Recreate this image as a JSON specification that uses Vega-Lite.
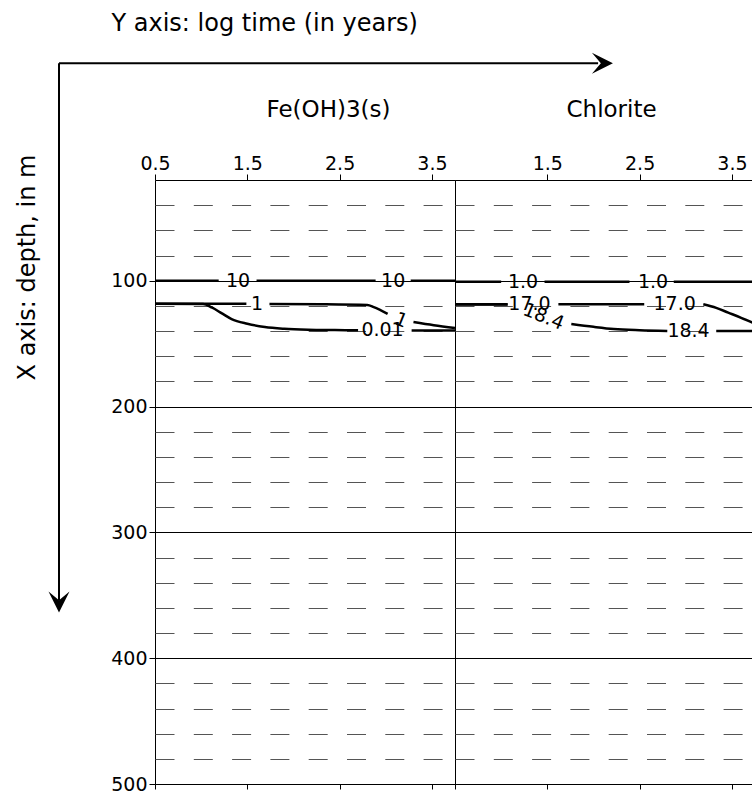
{
  "$schema": "https://vega.github.io/schema/vega-lite/v6.json",
  "background": "white",
  "padding": {"left": 14, "top": 12, "right": 0, "bottom": 5},
  "config": {
    "font": "DejaVu Sans",
    "view": {"stroke": "black", "strokeWidth": 1},
    "axis": {"labelColor": "black", "tickColor": "black", "titleColor": "black", "labelFontSize": 19, "labelFont": "DejaVu Sans", "titleFont": "DejaVu Sans", "titleFontWeight": "normal", "labelFlush": false, "labelOverlap": false, "domain": false},
    "title": {"font": "DejaVu Sans", "fontWeight": "normal", "color": "black"}
  },
  "title": {"text": "Y axis: log time (in years)", "anchor": "start", "fontSize": 24, "dx": 97, "offset": -3, "baseline": "alphabetic"},
  "datasets": {
    "lines": [
      {"panel": "Fe", "seg": "10a", "t": 0.5, "d": 100}, {"panel": "Fe", "seg": "10a", "t": 1.19, "d": 100},
      {"panel": "Fe", "seg": "10b", "t": 1.6, "d": 100}, {"panel": "Fe", "seg": "10b", "t": 2.89, "d": 100},
      {"panel": "Fe", "seg": "10c", "t": 3.27, "d": 100}, {"panel": "Fe", "seg": "10c", "t": 3.75, "d": 100},
      {"panel": "Fe", "seg": "1a", "t": 0.5, "d": 118.3}, {"panel": "Fe", "seg": "1a", "t": 1.49, "d": 118.4},
      {"panel": "Fe", "seg": "1b", "t": 1.74, "d": 118.5}, {"panel": "Fe", "seg": "1b", "t": 2.3, "d": 118.7}, {"panel": "Fe", "seg": "1b", "t": 2.8, "d": 119.3}, {"panel": "Fe", "seg": "1b", "t": 2.87, "d": 121}, {"panel": "Fe", "seg": "1b", "t": 3.02, "d": 126.4},
      {"panel": "Fe", "seg": "1c", "t": 3.3, "d": 132.9}, {"panel": "Fe", "seg": "1c", "t": 3.52, "d": 135.4}, {"panel": "Fe", "seg": "1c", "t": 3.75, "d": 137.6},
      {"panel": "Fe", "seg": "001a", "t": 0.5, "d": 118.3}, {"panel": "Fe", "seg": "001a", "t": 1.02, "d": 118.5}, {"panel": "Fe", "seg": "001a", "t": 1.12, "d": 121.5}, {"panel": "Fe", "seg": "001a", "t": 1.22, "d": 125.8}, {"panel": "Fe", "seg": "001a", "t": 1.33, "d": 130.5}, {"panel": "Fe", "seg": "001a", "t": 1.5, "d": 134.2}, {"panel": "Fe", "seg": "001a", "t": 1.69, "d": 136.8}, {"panel": "Fe", "seg": "001a", "t": 1.9, "d": 138.2}, {"panel": "Fe", "seg": "001a", "t": 2.16, "d": 139}, {"panel": "Fe", "seg": "001a", "t": 2.45, "d": 139.3}, {"panel": "Fe", "seg": "001a", "t": 2.7, "d": 139.5},
      {"panel": "Fe", "seg": "001b", "t": 3.28, "d": 139.7}, {"panel": "Fe", "seg": "001b", "t": 3.75, "d": 139.7},
      {"panel": "Chl", "seg": "c10a", "t": 0.5, "d": 100.8}, {"panel": "Chl", "seg": "c10a", "t": 1.0, "d": 100.8},
      {"panel": "Chl", "seg": "c10b", "t": 1.47, "d": 100.8}, {"panel": "Chl", "seg": "c10b", "t": 2.39, "d": 100.8},
      {"panel": "Chl", "seg": "c10c", "t": 2.87, "d": 100.8}, {"panel": "Chl", "seg": "c10c", "t": 3.75, "d": 100.8},
      {"panel": "Chl", "seg": "c17a", "t": 0.5, "d": 118.7}, {"panel": "Chl", "seg": "c17a", "t": 1.07, "d": 118.7},
      {"panel": "Chl", "seg": "c17b", "t": 1.62, "d": 118.8}, {"panel": "Chl", "seg": "c17b", "t": 2.55, "d": 118.8},
      {"panel": "Chl", "seg": "c17c", "t": 3.19, "d": 118.8}, {"panel": "Chl", "seg": "c17c", "t": 3.33, "d": 121.6}, {"panel": "Chl", "seg": "c17c", "t": 3.46, "d": 125.4}, {"panel": "Chl", "seg": "c17c", "t": 3.6, "d": 129.5}, {"panel": "Chl", "seg": "c17c", "t": 3.75, "d": 134.2},
      {"panel": "Chl", "seg": "c18a", "t": 0.5, "d": 118.9}, {"panel": "Chl", "seg": "c18a", "t": 1.07, "d": 119.0},
      {"panel": "Chl", "seg": "c18b", "t": 1.76, "d": 134.5}, {"panel": "Chl", "seg": "c18b", "t": 2.0, "d": 136.7}, {"panel": "Chl", "seg": "c18b", "t": 2.22, "d": 138.4}, {"panel": "Chl", "seg": "c18b", "t": 2.5, "d": 139.4}, {"panel": "Chl", "seg": "c18b", "t": 2.8, "d": 140},
      {"panel": "Chl", "seg": "c18c", "t": 3.33, "d": 140}, {"panel": "Chl", "seg": "c18c", "t": 3.75, "d": 140}
    ],
    "labels": [
      {"panel": "Fe", "label": "10", "t": 1.4, "d": 100},
      {"panel": "Fe", "label": "10", "t": 3.08, "d": 100},
      {"panel": "Fe", "label": "1", "t": 1.605, "d": 118.5},
      {"panel": "Fe", "label": "0.01", "t": 2.965, "d": 139.6},
      {"panel": "Chl", "label": "1.0", "t": 1.237, "d": 100.8},
      {"panel": "Chl", "label": "1.0", "t": 2.645, "d": 100.8},
      {"panel": "Chl", "label": "17.0", "t": 1.307, "d": 118.7},
      {"panel": "Chl", "label": "17.0", "t": 2.88, "d": 118.7},
      {"panel": "Chl", "label": "18.4", "t": 3.03, "d": 140}
    ],
    "tilted": [
      {"panel": "Fe", "label": "1", "t": 3.165, "d": 131.5},
      {"panel": "Chl", "label": "18.4", "t": 1.459, "d": 128.5}
    ],
    "arrows": [
      {"t": -0.54, "t2": 5.3, "d": -72.8, "d2": -72.8},
      {"t": -0.54, "t2": -0.54, "d": -72.8, "d2": 354}
    ],
    "heads": [
      {"dir": "right", "t": 5.347, "d": -72.8},
      {"dir": "down", "t": -0.54, "d": 355.3}
    ]
  },
  "spacing": 0,
  "bounds": "flush",
  "hconcat": [
    {
      "width": 300,
      "height": 604,
      "resolve": {"axis": {"x": "independent"}},
      "encoding": {
        "y": {"field": "d", "type": "quantitative", "scale": {"domain": [20, 500], "reverse": true, "nice": false, "zero": false},
          "axis": {"values": [40, 60, 80, 100, 120, 140, 160, 180, 200, 220, 240, 260, 280, 300, 320, 340, 360, 380, 400, 420, 440, 460, 480, 500],
            "grid": true,
            "gridDash": {"condition": {"test": "datum.value % 100 === 0", "value": []}, "value": [19, 19.3]},
            "gridColor": {"condition": {"test": "datum.value % 100 === 0", "value": "black"}, "value": "#555555"},
            "gridWidth": 1,
            "labelExpr": "datum.value % 100 === 0 ? datum.label : ''",
            "tickOpacity": {"condition": {"test": "datum.value % 100 === 0", "value": 1}, "value": 0},
            "tickSize": 6, "labelPadding": 2,
            "title": "X axis: depth, in m", "titleFontSize": 24, "titleX": -121, "titleY": 87, "titleAngle": 270, "titleBaseline": "alphabetic", "titleAlign": "center"}}
      },
      "layer": [
        {
          "data": {"name": "lines"},
          "transform": [{"filter": "datum.panel === 'Fe'"}],
          "mark": {"type": "line", "color": "black", "strokeWidth": 2.5, "interpolate": "monotone"},
          "encoding": {
            "x": {"field": "t", "type": "quantitative", "scale": {"domain": [0.5, 3.75], "nice": false, "zero": false},
              "axis": {"orient": "top", "values": [0.5, 1.5, 2.5, 3.5], "format": ".1f", "grid": false, "tickSize": 6, "labelBaseline": "alphabetic", "labelPadding": 5,
                "title": "Fe(OH)3(s)", "titleFontSize": 23, "titleX": 111, "titleY": -64, "titleAlign": "left", "titleBaseline": "alphabetic", "titleAngle": 0}},
            "detail": {"field": "seg", "type": "nominal"},
            "order": {"field": "t", "type": "quantitative"}
          }
        },
        {
          "data": {"name": "labels"},
          "transform": [{"filter": "datum.panel === 'Fe'"}],
          "mark": {"type": "text", "fontSize": 19, "color": "black", "baseline": "middle", "align": "center"},
          "encoding": {
            "x": {"field": "t", "type": "quantitative", "scale": {"domain": [0.5, 3.75], "nice": false, "zero": false},
              "axis": {"orient": "bottom", "values": [0.5, 1.5, 2.5, 3.5], "labels": false, "grid": false, "tickSize": 5, "title": null}},
            "text": {"field": "label", "type": "nominal"}
          }
        },
        {
          "data": {"name": "tilted"},
          "transform": [{"filter": "datum.panel === 'Fe'"}],
          "mark": {"type": "text", "fontSize": 19, "color": "black", "baseline": "middle", "align": "center", "angle": 22},
          "encoding": {
            "x": {"field": "t", "type": "quantitative", "scale": {"domain": [0.5, 3.75], "nice": false, "zero": false}, "axis": null},
            "text": {"field": "label", "type": "nominal"}
          }
        },
        {
          "data": {"name": "arrows"},
          "mark": {"type": "rule", "color": "black", "strokeWidth": 2, "clip": false},
          "encoding": {
            "x": {"field": "t", "type": "quantitative", "scale": {"domain": [0.5, 3.75], "nice": false, "zero": false}, "axis": null},
            "x2": {"field": "t2"},
            "y2": {"field": "d2"}
          }
        },
        {
          "data": {"name": "heads"},
          "mark": {"type": "point", "filled": true, "color": "black", "opacity": 1, "size": 441, "strokeWidth": 0, "clip": false},
          "encoding": {
            "x": {"field": "t", "type": "quantitative", "scale": {"domain": [0.5, 3.75], "nice": false, "zero": false}, "axis": null},
            "shape": {"field": "dir", "type": "nominal", "scale": {"domain": ["right", "down"], "range": ["M1,0L-1,-1L-0.15,0L-1,1Z", "M0,1L-1,-1L0,-0.15L1,-1Z"]}, "legend": null}
          }
        }
      ]
    },
    {
      "width": 300,
      "height": 604,
      "resolve": {"axis": {"x": "independent"}},
      "encoding": {
        "y": {"field": "d", "type": "quantitative", "scale": {"domain": [20, 500], "reverse": true, "nice": false, "zero": false},
          "axis": {"values": [40, 60, 80, 100, 120, 140, 160, 180, 200, 220, 240, 260, 280, 300, 320, 340, 360, 380, 400, 420, 440, 460, 480, 500],
            "grid": true,
            "gridDash": {"condition": {"test": "datum.value % 100 === 0", "value": []}, "value": [19, 19.3]},
            "gridColor": {"condition": {"test": "datum.value % 100 === 0", "value": "black"}, "value": "#555555"},
            "gridWidth": 1,
            "labels": false, "ticks": false, "title": null}}
      },
      "layer": [
        {
          "data": {"name": "lines"},
          "transform": [{"filter": "datum.panel === 'Chl'"}],
          "mark": {"type": "line", "color": "black", "strokeWidth": 2.5, "interpolate": "monotone"},
          "encoding": {
            "x": {"field": "t", "type": "quantitative", "scale": {"domain": [0.5, 3.75], "nice": false, "zero": false},
              "axis": {"orient": "top", "values": [1.5, 2.5, 3.5], "format": ".1f", "grid": false, "tickSize": 6, "labelBaseline": "alphabetic", "labelPadding": 5,
                "title": "Chlorite", "titleFontSize": 23, "titleX": 111, "titleY": -64, "titleAlign": "left", "titleBaseline": "alphabetic", "titleAngle": 0}},
            "detail": {"field": "seg", "type": "nominal"},
            "order": {"field": "t", "type": "quantitative"}
          }
        },
        {
          "data": {"name": "labels"},
          "transform": [{"filter": "datum.panel === 'Chl'"}],
          "mark": {"type": "text", "fontSize": 19, "color": "black", "baseline": "middle", "align": "center"},
          "encoding": {
            "x": {"field": "t", "type": "quantitative", "scale": {"domain": [0.5, 3.75], "nice": false, "zero": false},
              "axis": {"orient": "bottom", "values": [0.5, 1.5, 2.5, 3.5], "labels": false, "grid": false, "tickSize": 5, "title": null}},
            "text": {"field": "label", "type": "nominal"}
          }
        },
        {
          "data": {"name": "tilted"},
          "transform": [{"filter": "datum.panel === 'Chl'"}],
          "mark": {"type": "text", "fontSize": 19, "color": "black", "baseline": "middle", "align": "center", "angle": 22},
          "encoding": {
            "x": {"field": "t", "type": "quantitative", "scale": {"domain": [0.5, 3.75], "nice": false, "zero": false}, "axis": null},
            "text": {"field": "label", "type": "nominal"}
          }
        }
      ]
    }
  ]
}
